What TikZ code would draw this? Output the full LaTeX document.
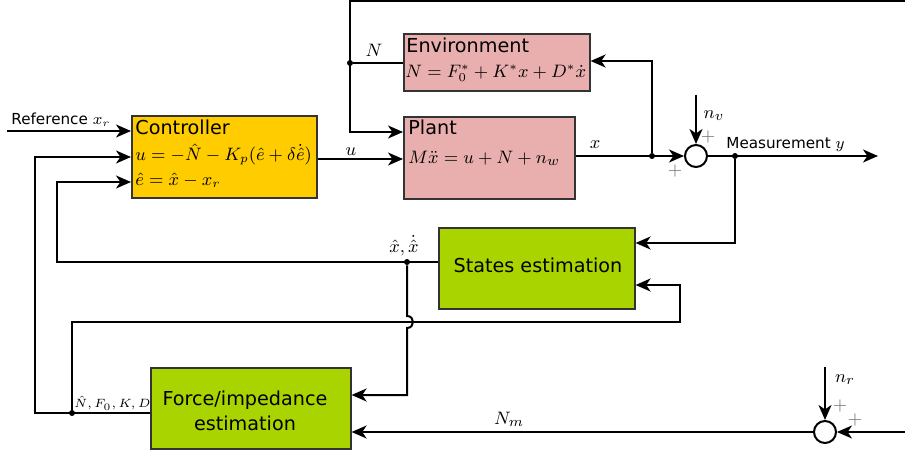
\documentclass[tikz,border=0pt]{standalone}
\usepackage[no-math]{fontspec}
\setmainfont{DejaVu Sans}
\usetikzlibrary{arrows.meta,calc}
\definecolor{ctrlc}{HTML}{FFCC00}
\definecolor{pinkc}{HTML}{E9AFAF}
\definecolor{greenc}{HTML}{AAD400}
\begin{document}
\begin{tikzpicture}[x=0.5pt,y=-0.5pt,
  box/.style={draw=black!80, line width=0.8pt, anchor=north west, inner sep=0pt},
  ln/.style={line width=1pt},
  arr/.style={line width=1pt, -{Stealth[length=7.5pt,width=6.5pt,inset=2.2pt]}},
  jdot/.style={circle, fill, inner sep=0pt, minimum size=3pt},
  sumc/.style={circle, draw, line width=1pt, minimum size=11pt, inner sep=0pt},
  title/.style={font=\fontsize{9.6}{11.5}\selectfont, inner sep=0pt},
  eq/.style={font=\fontsize{9.0}{11}\selectfont, inner sep=0pt},
  lbl/.style={font=\fontsize{7.6}{9}\selectfont, inner sep=0pt},
  mlbl/.style={font=\fontsize{9.4}{11}\selectfont, inner sep=0pt},
  sml/.style={font=\fontsize{6.2}{8}\selectfont, inner sep=0pt},
  plus/.style={text=black!55, font=\fontsize{9.5}{10}\selectfont, inner sep=0pt}]
\useasboundingbox (0,0) rectangle (905,454);

% boxes
\node[box, fill=ctrlc, minimum width=92.5pt, minimum height=41pt] (ctrl) at (131,115) {};
\node[box, fill=pinkc, minimum width=93pt, minimum height=28.5pt] (env) at (403,33) {};
\node[box, fill=pinkc, minimum width=85.5pt, minimum height=41pt] (plant) at (403,116) {};
\node[box, fill=greenc, minimum width=98pt, minimum height=40.5pt] (states) at (438,227) {};
\node[box, fill=greenc, minimum width=100pt, minimum height=40.5pt] (force) at (150,367) {};

% box texts
\node[title, anchor=base west] (ctrlT) at (135,135) {Controller};
\node[eq, anchor=base west] (ctrlE1) at (135,161) {$u=-\hat N-K_p(\hat e+\delta\dot{\hat e})$};
\node[eq, anchor=base west] (ctrlE2) at (135,186) {$\hat e=\hat x-x_r$};
\node[title, anchor=base west] (envT) at (406,53) {Environment};
\node[eq, font=\fontsize{8.7}{10}\selectfont, anchor=base west] (envE) at (405,78) {$N=F_0^*+K^*x+D^*\dot x$};
\node[title, anchor=base west] (plantT) at (408,135) {Plant};
\node[mlbl, anchor=base west] (plantE) at (408,164) {$M\ddot x=u+N+n_w$};
\node[title] (statesT) at (538,265) {States estimation};
\node[title, align=center] (forceT) at (245,411) {Force/impedance\\[1pt]estimation};

% summing junctions
\node[sumc] (sum1) at (696,156) {};
\node[sumc] (sum2) at (825,432) {};

% coordinates
\coordinate (refin) at (7,131);
\coordinate (topR) at (905,1);
\coordinate (topL) at (350,1);
\node[jdot] (dN) at (350,63) {};
\node[jdot] (dx) at (652,156) {};
\node[jdot] (dy) at (735,156) {};
\node[jdot] (dxh) at (407,262) {};
\node[jdot] (dNh) at (72,413) {};
\coordinate (nvin) at (696,95);
\coordinate (yout) at (878,156);
\coordinate (nrin) at (825,367);
\coordinate (rin) at (905,432);

% connectors
\draw[arr] (refin) -- (refin -| ctrl.west);
\draw[arr] (ctrl.east |- 0,159) -- (plant.west |- 0,159);
\draw[arr] (topR) -- (topL) -- (topL |- 0,132) -- (plant.west |- 0,132);
\draw[ln] (env.west |- dN) -- (dN);
\draw[arr] (plant.east |- sum1) -- (sum1.west);
\draw[arr] (dx) -- (dx |- 0,61) -- (env.east |- 0,61);
\draw[arr] (nvin) -- (sum1.north);
\draw[arr] (sum1.east) -- (yout);
\draw[arr] (dy) -- (dy |- 0,243) -- (states.east |- 0,243);
\draw[arr] (dNh) -- (72,322) -- (680,322) -- (680,285) -- (states.east |- 0,285);
\draw[arr] (states.west |- dxh) -- (57,262) -- (57,182) -- (ctrl.west |- 0,182);
\draw[arr] (dxh) -- (407,316) .. controls (415,316) and (415,328) .. (407,328) -- (407,395) -- (force.east |- 0,395);
\draw[arr] (force.west |- dNh) -- (35,413) -- (35,157) -- (ctrl.west |- 0,157);
\draw[arr] (sum2.west) -- (force.east |- sum2);
\draw[arr] (nrin) -- (sum2.north);
\draw[arr] (rin) -- (sum2.east);

% labels
\node[lbl, anchor=base west] (refL) at (11,125) {Reference $x_r$};
\node[mlbl] (uL) at (351,152) {$u$};
\node[mlbl] (xL) at (595,145) {$x$};
\node[mlbl] (NL) at (374,50) {$N$};
\node[mlbl] (nvL) at (714,116) {$n_v$};
\node[lbl, anchor=base west] (measL) at (726,149) {Measurement $y$};
\node[mlbl] (xhL) at (404,246) {$\hat x,\dot{\hat x}$};
\node[sml, anchor=base west] (NhL) at (74,408) {$\hat N,F_0,K,D$};
\node[mlbl] (NmL) at (509,419) {$N_m$};
\node[mlbl] (nrL) at (845,380) {$n_r$};
\node[plus] (p1) at (708,137) {$+$};
\node[plus] (p2) at (675,171) {$+$};
\node[plus] (p3) at (840,406) {$+$};
\node[plus] (p4) at (855,420) {$+$};
\end{tikzpicture}
\end{document}
